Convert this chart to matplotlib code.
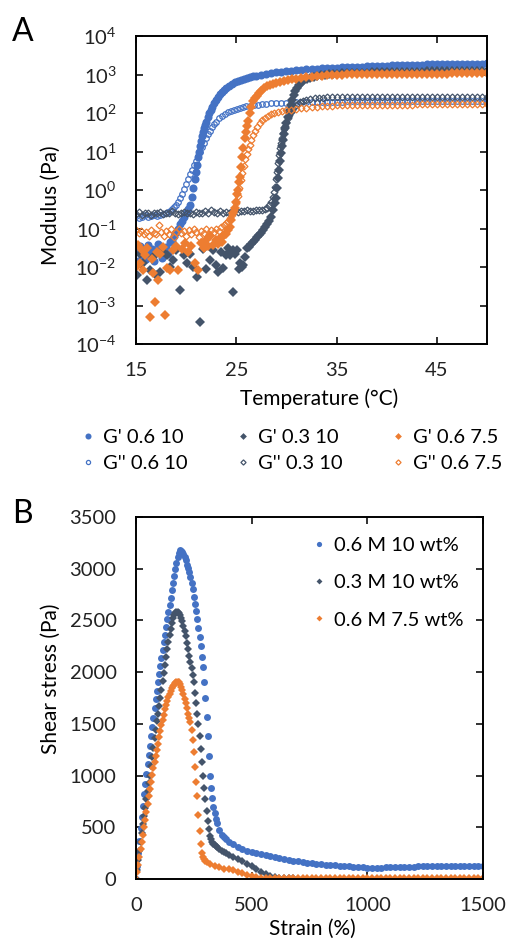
import numpy as np
import matplotlib
matplotlib.use("Agg")
import matplotlib.pyplot as plt

plt.rcParams['font.family'] = ['Lato', 'DejaVu Sans']
plt.rcParams['mathtext.default'] = 'regular'

BLUE = "#4472C4"
DARK = "#44546A"
ORANGE = "#ED7D31"

# ---- Panel A: modulus vs temperature ----
# G' 0.6 M 10 wt%
t_gp_06_10 = [15.0, 15.2, 15.4, 15.6, 15.8, 16.0, 16.2, 16.4, 16.6, 16.8, 17.0, 17.2, 17.4, 17.6, 17.8,
              18.0, 18.2, 18.4, 18.6, 18.8, 19.0, 19.2, 19.4, 19.6, 19.8, 20.0, 20.2, 20.4, 20.55, 20.7,
              20.85, 21.0, 21.1, 21.2, 21.3, 21.4, 21.5, 21.6, 21.7, 21.8, 21.9, 22.0, 22.15, 22.3, 22.45,
              22.6, 22.8, 23.0, 23.2, 23.4, 23.6, 23.8, 24.0, 24.3, 24.6, 24.9, 25.2, 25.5, 25.8, 26.1,
              26.4, 26.7, 27.0, 27.5, 28.0, 28.5, 29.0, 29.5, 30.0, 30.5, 31.0, 31.5, 32.0, 32.5, 33.0,
              33.5, 34.0, 34.5, 35.0, 35.5, 36.0, 36.5, 37.0, 37.5, 38.0, 38.5, 39.0, 39.5, 40.0, 40.5,
              41.0, 41.5, 42.0, 42.5, 43.0, 43.5, 44.0, 44.5, 45.0, 45.5, 46.0, 46.5, 47.0, 47.5, 48.0,
              48.5, 49.0, 49.5, 50.0]
g_gp_06_10 = [0.028, 0.014, 0.035, 0.02, 0.03, 0.016, 0.038, 0.022, 0.03, 0.014, 0.025, 0.04, 0.028, 0.017, 0.032,
              0.034, 0.022, 0.045, 0.05, 0.065, 0.083, 0.1, 0.13, 0.16, 0.2, 0.25, 0.32, 0.42, 0.65, 1.1,
              1.9, 3.0, 4.5, 7, 10, 14, 19, 25, 32, 40, 50, 60, 78, 98, 120,
              145, 180, 220, 260, 310, 350, 395, 440, 500, 560, 620, 680, 730, 780, 820,
              860, 900, 940, 990, 1040, 1090, 1140, 1180, 1220, 1260, 1290, 1320, 1350, 1380, 1410,
              1440, 1460, 1490, 1510, 1530, 1550, 1570, 1590, 1610, 1630, 1650, 1670, 1680, 1700, 1720,
              1730, 1750, 1760, 1780, 1790, 1800, 1820, 1830, 1840, 1850, 1860, 1870, 1880, 1890, 1900,
              1910, 1920, 1930, 1940]

# G'' 0.6 M 10 wt%
t_gpp_06_10 = [15.0, 15.3, 15.6, 15.9, 16.2, 16.5, 16.8, 17.1, 17.4, 17.7, 18.0, 18.2, 18.4, 18.6, 18.8,
               19.0, 19.2, 19.4, 19.6, 19.8, 20.0, 20.2, 20.4, 20.6, 20.8, 21.0, 21.2, 21.4, 21.6, 21.8,
               22.0, 22.2, 22.4, 22.6, 22.8, 23.0, 23.3, 23.6, 23.9, 24.2, 24.5, 24.8, 25.1, 25.4, 25.7,
               26.0, 26.4, 26.8, 27.2, 27.6, 28.0, 28.5, 29.0, 29.5, 30.0, 30.5, 31.0, 31.5, 32.0, 32.5,
               33.0, 33.5, 34.0, 34.5, 35.0, 35.5, 36.0, 36.5, 37.0, 37.5, 38.0, 38.5, 39.0, 39.5, 40.0,
               40.5, 41.0, 41.5, 42.0, 42.5, 43.0, 43.5, 44.0, 44.5, 45.0, 45.5, 46.0, 46.5, 47.0, 47.5,
               48.0, 48.5, 49.0, 49.5, 50.0]
g_gpp_06_10 = [0.21, 0.19, 0.2, 0.22, 0.2, 0.21, 0.23, 0.21, 0.22, 0.24, 0.25, 0.27, 0.29, 0.32, 0.36,
               0.42, 0.5, 0.62, 0.8, 1.05, 1.4, 1.9, 2.6, 3.4, 4.4, 5.8, 7.6, 10, 13, 17,
               22, 28, 35, 43, 52, 60, 72, 84, 95, 105, 114, 122, 130, 137, 143,
               148, 155, 161, 166, 171, 175, 179, 182, 184, 186, 188, 190, 191, 192, 193,
               194, 195, 196, 197, 197, 198, 199, 199, 200, 200, 201, 201, 202, 202, 203,
               203, 204, 204, 205, 205, 205, 206, 206, 206, 207, 207, 207, 208, 208, 208,
               209, 209, 209, 210, 210]

# G' 0.3 M 10 wt%
t_gp_03_10 = [15.07, 15.4, 15.7, 16.06, 16.4, 16.7, 17.0, 17.4, 17.7, 18.1, 18.4, 18.7, 19.0, 19.4, 19.8,
              20.1, 20.4, 20.7, 21.05, 21.4, 21.7, 22.0, 22.4, 22.7, 23.0, 23.2, 23.5, 23.7, 24.0, 24.2,
              24.4, 24.65, 24.7, 24.9, 25.1, 25.3, 25.4, 25.6, 25.7, 25.9, 26.1, 26.3, 26.5, 26.7, 26.9,
              27.1, 27.3, 27.5, 27.7, 27.9, 28.1, 28.3, 28.5, 28.7, 28.85, 29.0, 29.1, 29.2, 29.3, 29.4,
              29.5, 29.6, 29.7, 29.8, 29.9, 30.0, 30.15, 30.3, 30.45, 30.6, 30.75, 30.9, 31.1, 31.3, 31.5,
              31.8, 32.1, 32.4, 32.7, 33.0, 33.4, 33.8, 34.2, 34.6, 35.0, 35.5, 36.0, 36.5, 37.0, 37.5,
              38.0, 38.5, 39.0, 39.5, 40.0, 40.5, 41.0, 41.5, 42.0, 42.5, 43.0, 43.5, 44.0, 44.5, 45.0,
              45.5, 46.0, 46.5, 47.0, 47.5, 48.0, 48.5, 49.0, 49.5, 50.0]
g_gp_03_10 = [0.0062, 0.022, 0.0126, 0.0046, 0.0083, 0.018, 0.0063, 0.0076, 0.025, 0.02, 0.01, 0.015, 0.028, 0.0025, 0.02,
              0.0126, 0.022, 0.01, 0.0056, 0.00038, 0.03, 0.0089, 0.015, 0.0275, 0.0112, 0.0076, 0.025, 0.0093, 0.02, 0.032,
              0.0204, 0.0023, 0.0275, 0.022, 0.028, 0.0089, 0.0126, 0.01, 0.0112, 0.0186, 0.032, 0.034, 0.04, 0.045, 0.05,
              0.06, 0.068, 0.076, 0.091, 0.11, 0.13, 0.16, 0.2, 0.3, 0.45, 0.63, 1.1, 2.0, 3.3, 5.6,
              9, 13.5, 20, 28, 40, 54, 80, 112, 158, 224, 300, 380, 457, 537, 617,
              708, 776, 832, 871, 912, 955, 1000, 1023, 1047, 1060, 1070, 1080, 1090, 1100, 1110,
              1120, 1130, 1140, 1145, 1150, 1160, 1165, 1170, 1180, 1185, 1190, 1195, 1200, 1205, 1210,
              1215, 1220, 1225, 1230, 1235, 1240, 1245, 1250, 1250, 1255]

# G'' 0.3 M 10 wt%
t_gpp_03_10 = [15.0, 15.3, 15.6, 15.9, 16.2, 16.5, 16.8, 17.1, 17.4, 17.7, 18.0, 18.3, 18.6, 18.9, 19.2,
               19.5, 19.8, 20.1, 20.4, 20.7, 21.0, 21.3, 21.6, 21.9, 22.2, 22.5, 22.8, 23.1, 23.4, 23.7,
               24.0, 24.3, 24.6, 24.9, 25.2, 25.5, 25.8, 26.1, 26.4, 26.7, 27.0, 27.3, 27.6, 27.9, 28.1,
               28.3, 28.5, 28.65, 28.8, 28.9, 29.0, 29.1, 29.2, 29.3, 29.4, 29.5, 29.6, 29.7, 29.8, 29.9,
               30.0, 30.15, 30.3, 30.45, 30.6, 30.8, 31.0, 31.2, 31.4, 31.7, 32.0, 32.4, 32.8, 33.2, 33.6,
               34.0, 34.5, 35.0, 35.5, 36.0, 36.5, 37.0, 37.5, 38.0, 38.5, 39.0, 39.5, 40.0, 40.5, 41.0,
               41.5, 42.0, 42.5, 43.0, 43.5, 44.0, 44.5, 45.0, 45.5, 46.0, 46.5, 47.0, 47.5, 48.0, 48.5,
               49.0, 49.5, 50.0]
g_gpp_03_10 = [0.24, 0.27, 0.23, 0.26, 0.25, 0.22, 0.26, 0.25, 0.27, 0.24, 0.26, 0.25, 0.28, 0.25, 0.24,
               0.26, 0.27, 0.25, 0.26, 0.24, 0.27, 0.25, 0.26, 0.28, 0.26, 0.3, 0.27, 0.26, 0.28, 0.25,
               0.27, 0.26, 0.28, 0.3, 0.27, 0.29, 0.28, 0.3, 0.28, 0.29, 0.31, 0.3, 0.3, 0.32, 0.35,
               0.4, 0.48, 0.65, 0.9, 1.2, 1.9, 3, 5, 8, 12, 17, 23, 30, 38, 47,
               57, 72, 88, 105, 122, 142, 160, 176, 190, 205, 218, 230, 240, 247, 252,
               256, 260, 262, 264, 265, 266, 266, 267, 267, 267, 266, 266, 266, 265, 265,
               264, 264, 263, 263, 262, 262, 261, 261, 260, 260, 259, 259, 258, 258, 257,
               257, 256, 256]

# G' 0.6 M 7.5 wt%
t_gp_06_75 = [15.0, 15.2, 15.4, 15.6, 15.7, 15.9, 16.1, 16.4, 16.6, 16.7, 16.9, 17.1, 17.2, 17.4, 17.7,
              17.9, 18.1, 18.4, 18.7, 19.0, 19.2, 19.55, 19.9, 20.2, 20.5, 20.9, 21.2, 21.5, 21.8, 22.0,
              22.2, 22.4, 22.7, 23.0, 23.2, 23.4, 23.6, 23.7, 23.9, 24.0, 24.2, 24.4, 24.5, 24.7, 24.9,
              25.0, 25.1, 25.2, 25.3, 25.4, 25.5, 25.6, 25.7, 25.85, 26.0, 26.1, 26.2, 26.35, 26.5, 26.7,
              26.9, 27.1, 27.3, 27.5, 27.8, 28.1, 28.4, 28.7, 29.0, 29.4, 29.8, 30.2, 30.6, 31.0, 31.5,
              32.0, 32.5, 33.0, 33.5, 34.0, 34.5, 35.0, 35.5, 36.0, 36.5, 37.0, 37.5, 38.0, 38.5, 39.0,
              39.5, 40.0, 40.5, 41.0, 41.5, 42.0, 42.5, 43.0, 43.5, 44.0, 44.5, 45.0, 45.5, 46.0, 46.5,
              47.0, 47.5, 48.0, 48.5, 49.0, 49.5, 50.0]
g_gp_06_75 = [0.01, 0.037, 0.0126, 0.0275, 0.0083, 0.02, 0.032, 0.00051, 0.016, 0.0069, 0.00126, 0.025, 0.0046, 0.022, 0.034,
              0.00056, 0.0093, 0.0083, 0.0275, 0.035, 0.0083, 0.03, 0.041, 0.025, 0.035, 0.0126, 0.0083, 0.041, 0.032, 0.05,
              0.035, 0.062, 0.037, 0.05, 0.04, 0.055, 0.045, 0.062, 0.071, 0.074, 0.089, 0.11, 0.166, 0.25, 0.35,
              0.5, 0.8, 1.0, 1.6, 2.2, 4, 7, 12.6, 22, 32, 45, 63, 100, 141, 200,
              240, 280, 330, 380, 440, 490, 530, 570, 610, 650, 690, 720, 750, 780, 810,
              840, 870, 900, 925, 950, 970, 985, 995, 1005, 1010, 1015, 1020, 1024, 1028, 1031,
              1034, 1037, 1040, 1042, 1044, 1046, 1048, 1050, 1052, 1054, 1056, 1058, 1059, 1060, 1062,
              1063, 1064, 1065, 1066, 1067, 1068, 1070]

# G'' 0.6 M 7.5 wt%
t_gpp_06_75 = [15.0, 15.25, 15.5, 15.75, 16.0, 16.25, 16.5, 16.75, 17.0, 17.25, 17.5, 17.75, 18.0, 18.25, 18.5,
               18.75, 19.0, 19.25, 19.5, 19.75, 20.0, 20.25, 20.5, 20.75, 21.0, 21.25, 21.5, 21.75, 22.0, 22.25,
               22.5, 22.75, 23.0, 23.25, 23.5, 23.75, 24.0, 24.2, 24.4, 24.6, 24.8, 25.0, 25.15, 25.3, 25.45,
               25.6, 25.75, 25.9, 26.05, 26.2, 26.35, 26.5, 26.7, 26.9, 27.1, 27.35, 27.6, 27.9, 28.2, 28.5,
               28.8, 29.2, 29.6, 30.0, 30.5, 31.0, 31.5, 32.0, 32.5, 33.0, 33.5, 34.0, 34.5, 35.0, 35.5,
               36.0, 36.5, 37.0, 37.5, 38.0, 38.5, 39.0, 39.5, 40.0, 40.5, 41.0, 41.5, 42.0, 42.5, 43.0,
               43.5, 44.0, 44.5, 45.0, 45.5, 46.0, 46.5, 47.0, 47.5, 48.0, 48.5, 49.0, 49.5, 50.0]
g_gpp_06_75 = [0.09, 0.075, 0.085, 0.07, 0.08, 0.065, 0.09, 0.075, 0.07, 0.12, 0.08, 0.065, 0.085, 0.07, 0.095,
               0.06, 0.08, 0.1, 0.075, 0.085, 0.065, 0.09, 0.07, 0.1, 0.08, 0.06, 0.085, 0.075, 0.095, 0.07,
               0.09, 0.08, 0.1, 0.085, 0.11, 0.12, 0.14, 0.16, 0.19, 0.23, 0.3, 0.45, 0.7, 1.1, 1.8,
               2.8, 4.2, 6.2, 8.5, 11.5, 15, 20, 27, 35, 44, 55, 65, 75, 84, 92,
               98, 105, 111, 117, 123, 128, 133, 138, 141, 145, 148, 152, 155, 157, 158,
               159, 160, 161, 161, 162, 162, 163, 163, 164, 164, 165, 165, 166, 166, 167,
               167, 167, 168, 168, 168, 169, 169, 169, 170, 170, 170, 171, 171, 172]

# ---- Panel B: shear stress vs strain ----
strain_06_10 = [0, 5, 10, 15, 20, 25, 30, 35, 40, 45, 50, 55, 60, 65, 70, 75, 80, 85, 90, 95,
                100, 105, 110, 115, 120, 125, 130, 135, 140, 145, 150, 155, 160, 165, 170, 175, 180, 185, 190, 195,
                200, 205, 210, 215, 220, 225, 230, 235, 240, 245, 250, 255, 260, 265, 270, 275, 280, 285, 290, 295,
                300, 305, 310, 315, 320, 325, 330, 335, 340, 345, 350, 360, 370, 380, 390, 400, 420, 440, 460, 480,
                500, 520, 540, 560, 580, 600, 620, 640, 660, 680, 700, 720, 740, 760, 780, 800, 820, 840, 860, 880,
                900, 920, 940, 960, 980, 1000, 1020, 1040, 1060, 1080, 1100, 1120, 1140, 1160, 1180, 1200, 1220, 1240,
                1260, 1280, 1300, 1320, 1340, 1360, 1380, 1400, 1420, 1440, 1460, 1480, 1500]
stress_06_10 = [0, 125, 250, 370, 490, 600, 710, 820, 920, 1020, 1110, 1200, 1290, 1380, 1470, 1560, 1650, 1740, 1820, 1900,
                1980, 2060, 2140, 2210, 2290, 2360, 2440, 2510, 2580, 2650, 2720, 2790, 2860, 2930, 3000, 3060, 3110, 3155, 3180, 3175,
                3160, 3140, 3110, 3080, 3040, 3010, 2970, 2920, 2860, 2800, 2730, 2660, 2590, 2510, 2430, 2340, 2250, 2150, 2050, 1900,
                1750, 1570, 1380, 1190, 1000, 880, 780, 700, 640, 580, 540, 470, 430, 405, 385, 360, 335, 312, 292, 275,
                260, 248, 238, 228, 219, 210, 202, 194, 186, 178, 171, 165, 159, 153, 148, 143, 139, 135, 131, 127,
                124, 121, 118, 115, 113, 111, 110, 110, 111, 113, 115, 117, 118, 119, 120, 120, 121, 121,
                122, 122, 123, 123, 124, 124, 124, 125, 125, 125, 126, 126, 126]

strain_03_10 = [0, 5, 10, 15, 20, 25, 30, 35, 40, 45, 50, 55, 60, 65, 70, 75, 80, 85, 90, 95,
                100, 105, 110, 115, 120, 125, 130, 135, 140, 145, 150, 155, 160, 165, 170, 175, 180, 185, 190, 195,
                200, 205, 210, 215, 220, 225, 230, 235, 240, 245, 250, 255, 260, 265, 270, 275, 280, 285, 290, 295,
                300, 305, 310, 315, 320, 325, 330, 335, 340, 345, 350, 360, 370, 380, 390, 400, 420, 440, 460, 480,
                500, 520, 540, 560, 580, 600, 620, 640, 660, 680]
stress_03_10 = [0, 90, 180, 270, 360, 445, 530, 610, 690, 770, 850, 925, 1000, 1090, 1180, 1270, 1360, 1445, 1525, 1600,
                1675, 1750, 1830, 1910, 1990, 2070, 2150, 2220, 2290, 2360, 2420, 2475, 2520, 2550, 2568, 2578, 2580, 2570, 2550, 2525,
                2490, 2450, 2400, 2345, 2285, 2225, 2160, 2100, 2040, 1970, 1900, 1800, 1700, 1600, 1500, 1380, 1260, 1130, 1000, 880,
                770, 660, 560, 480, 420, 385, 360, 340, 325, 315, 305, 290, 275, 260, 248, 236, 215, 195, 172, 148,
                125, 100, 72, 46, 28, 18, 13, 10, 9, 8]

strain_06_75 = [0, 5, 10, 15, 20, 25, 30, 35, 40, 45, 50, 55, 60, 65, 70, 75, 80, 85, 90, 95,
                100, 105, 110, 115, 120, 125, 130, 135, 140, 145, 150, 155, 160, 165, 170, 175, 180, 185, 190, 195,
                200, 205, 210, 215, 220, 225, 230, 235, 240, 245, 250, 255, 260, 265, 270, 275, 280, 285, 290, 295,
                300, 305, 320, 340, 360, 380, 400, 420, 440, 460, 480, 500, 520, 540, 560, 580, 600, 620, 640, 660,
                680, 700, 720, 740, 760, 780, 800, 820, 840, 860, 880, 900, 920, 940, 960, 980, 1000, 1020, 1040, 1060,
                1080, 1100, 1120, 1140, 1160, 1180, 1200, 1220, 1240, 1260, 1280, 1300, 1320, 1340, 1360, 1380, 1400,
                1420, 1440, 1460, 1480, 1500]
stress_06_75 = [0, 70, 140, 215, 290, 360, 430, 500, 575, 650, 725, 800, 870, 940, 1010, 1070, 1130, 1190, 1250, 1310,
                1370, 1430, 1490, 1540, 1590, 1640, 1680, 1720, 1760, 1790, 1820, 1845, 1865, 1880, 1892, 1900, 1905, 1900, 1885, 1860,
                1830, 1790, 1745, 1700, 1650, 1600, 1560, 1520, 1440, 1340, 1230, 1080, 940, 800, 620, 460, 340, 255, 215, 190,
                170, 160, 142, 125, 112, 101, 92, 83, 72, 58, 42, 26, 15, 10, 8, 8, 8, 8, 8, 8,
                8, 8, 8, 8, 8, 8, 8, 8, 8, 8, 8, 8, 8, 8, 8, 8, 8, 8, 8, 8,
                8, 8, 8, 8, 8, 8, 8, 8, 8, 8, 8, 8, 8, 8, 8, 8, 8,
                8, 8, 8, 8, 8]

fig = plt.figure(figsize=(5.07, 9.41), dpi=100)

# ---------- A ----------
axA = fig.add_axes([136 / 507, 1 - 344 / 941, 351 / 507, 308 / 941])
axA.plot(t_gp_06_10, g_gp_06_10, 'o', ms=5.8, color=BLUE, mew=0, label="G' 0.6 10")
axA.plot(t_gpp_06_10, g_gpp_06_10, 'o', ms=4, mfc='none', mec=BLUE, mew=0.9, label="G'' 0.6 10")
axA.plot(t_gp_03_10, g_gp_03_10, 'D', ms=4.6, color=DARK, mew=0, label="G' 0.3 10")
axA.plot(t_gpp_03_10, g_gpp_03_10, 'D', ms=3.5, mfc='none', mec=DARK, mew=0.9, label="G'' 0.3 10")
axA.plot(t_gp_06_75, g_gp_06_75, 'D', ms=4.6, color=ORANGE, mew=0, label="G' 0.6 7.5")
axA.plot(t_gpp_06_75, g_gpp_06_75, 'D', ms=3.5, mfc='none', mec=ORANGE, mew=0.9, label="G'' 0.6 7.5")

axA.set_yscale('log')
axA.set_xlim(15, 50)
axA.set_ylim(1e-4, 1e4)
axA.set_xticks([15, 25, 35, 45])
yt = [1e-4, 1e-3, 1e-2, 1e-1, 1e0, 1e1, 1e2, 1e3, 1e4]
axA.set_yticks(yt)
axA.set_yticklabels([r'$10^{%d}$' % int(np.log10(v)) for v in yt])
axA.minorticks_off()
axA.set_xlabel('Temperature (°C)', fontsize=15)
axA.set_ylabel('Modulus (Pa)', fontsize=15)
axA.xaxis.set_label_coords(0.521, -0.143)
axA.yaxis.set_label_coords(-0.214, 0.451)

fig.legend(*axA.get_legend_handles_labels(), ncol=3, loc='upper left',
           bbox_to_anchor=(74 / 507, 1 - 421 / 941), frameon=False, fontsize=14.5,
           handlelength=0.6, handletextpad=0.45, columnspacing=2.45, labelspacing=0.45,
           markerscale=0.75, borderaxespad=0)

# ---------- B ----------
axB = fig.add_axes([136 / 507, 1 - 879 / 941, 347 / 507, 362 / 941])
axB.plot(strain_06_10, stress_06_10, 'o', ms=5, color=BLUE, mew=0, label='0.6 M 10 wt%')
axB.plot(strain_03_10, stress_03_10, 'D', ms=4, color=DARK, mew=0, label='0.3 M 10 wt%')
axB.plot(strain_06_75, stress_06_75, 'D', ms=4, color=ORANGE, mew=0, label='0.6 M 7.5 wt%')
axB.set_xlim(0, 1500)
axB.set_ylim(0, 3500)
axB.set_xticks([0, 500, 1000, 1500])
axB.set_yticks(range(0, 3501, 500))
axB.set_xlabel('Strain (%)', fontsize=15)
axB.set_ylabel('Shear stress (Pa)', fontsize=15)
axB.xaxis.set_label_coords(0.509, -0.11)
axB.yaxis.set_label_coords(-0.216, 0.552)
axB.legend(loc='upper right', bbox_to_anchor=(0.995, 0.995), frameon=False, fontsize=14.5,
           handlelength=0.6, handletextpad=0.45, labelspacing=1.0, markerscale=0.75)

for ax in (axA, axB):
    for s in ax.spines.values():
        s.set_linewidth(1.4)
        s.set_color('black')
    ax.tick_params(direction='in', length=5, width=1.3, top=True, right=True,
                   labelsize=14.5, colors='#222222')
    ax.tick_params(axis='x', pad=13)
    ax.tick_params(axis='y', pad=14)

fig.text(12 / 507, 1 - 32 / 941, 'A', fontsize=23, va='center', ha='left')
fig.text(12 / 507, 1 - 514 / 941, 'B', fontsize=23, va='center', ha='left')

fig.savefig('out.png', dpi=100)
